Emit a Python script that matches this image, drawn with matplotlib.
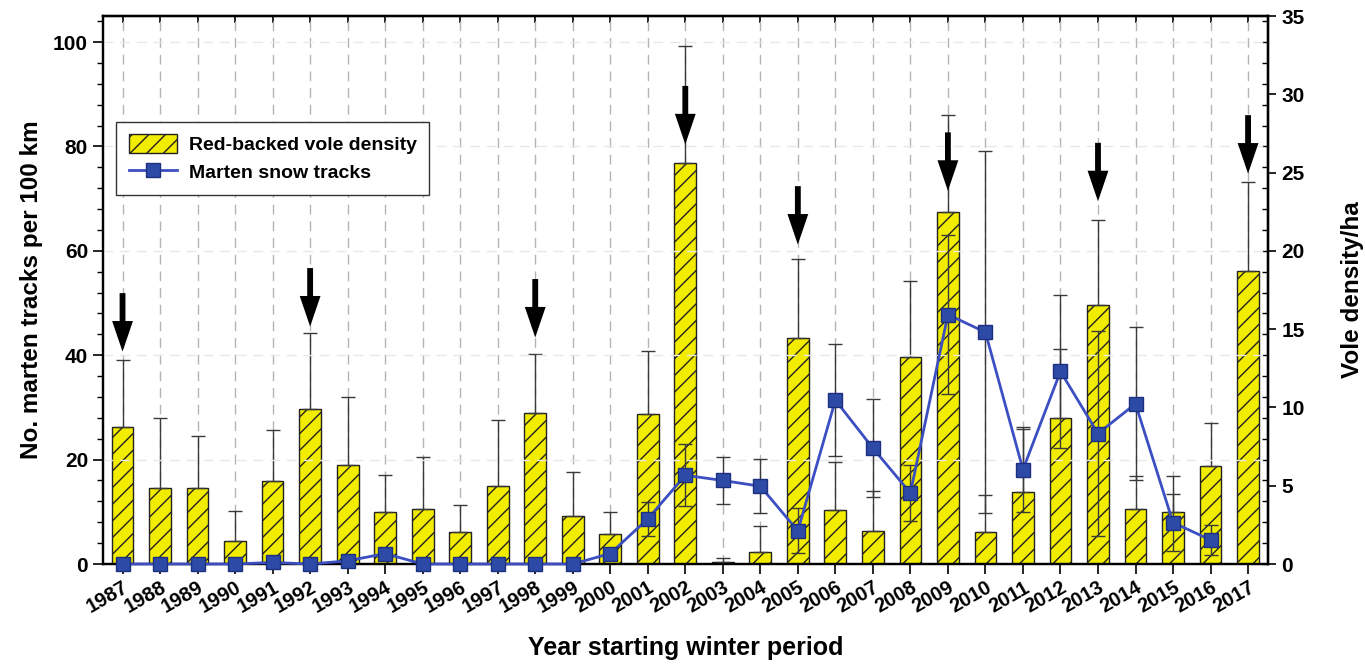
import numpy as np
import matplotlib
matplotlib.use('Agg')
import matplotlib.pyplot as plt
from matplotlib.ticker import MultipleLocator
from matplotlib.patches import Patch
from matplotlib.lines import Line2D

# values
years = np.arange(1987, 2018)

# red-backed vole density (voles/ha) and upper SE
vole = np.array([8.77, 4.87, 4.87, 1.5, 5.3, 9.92, 6.35, 3.35, 3.5, 2.05,
                 4.98, 9.66, 3.08, 1.92, 9.6, 25.64, 0.13, 0.75, 14.46, 3.46,
                 2.1, 13.25, 22.47, 2.03, 4.6, 9.35, 16.57, 3.52, 3.35, 6.28, 18.7])
vole_se = np.array([4.23, 4.47, 3.33, 1.88, 3.25, 4.82, 4.31, 2.31, 3.34, 1.75,
                    4.21, 3.74, 2.77, 1.39, 4.0, 7.42, 0.27, 1.68, 5.04, 3.04,
                    2.57, 4.82, 6.23, 2.39, 4.0, 4.35, 5.43, 2.08, 2.25, 2.72, 5.7])

# marten snow tracks per 100 km and SE (no survey in 2017)
tracks = np.array([0, 0, 0, 0, 0.3, 0, 0.6, 2.0, 0, 0,
                   0, 0, 0, 2.0, 8.65, 17.0, 16.0, 14.9, 6.35, 31.4,
                   22.2, 13.6, 47.8, 44.4, 18.1, 36.9, 25.0, 30.7, 7.95, 4.6, np.nan])
tracks_se = np.array([0, 0, 0, 0, 0, 0, 0, 0, 0, 0,
                      0, 0, 0, 0, 3.2, 5.9, 4.5, 5.2, 4.3, 10.7,
                      9.4, 5.4, 15.3, 34.7, 8.2, 14.7, 19.7, 14.7, 5.5, 2.9, np.nan])

# arrows marking vole peak years (tip height in tracks units)
arrow_years = [1987, 1992, 1998, 2002, 2005, 2009, 2013, 2017]
arrow_tips = [40.7, 45.5, 43.4, 80.4, 61.2, 71.5, 69.5, 74.8]
arrow_len = 11.2

yellow = '#f2ec00'
dark = '#222222'
blue_line = '#3c4fc2'
blue_face = '#2d4ba6'
blue_edge = '#1d3080'

plt.rcParams['font.family'] = ['Liberation Sans', 'DejaVu Sans']
plt.rcParams['font.weight'] = 'bold'
plt.rcParams['axes.labelweight'] = 'bold'
plt.rcParams['axes.linewidth'] = 1.6
plt.rcParams['hatch.linewidth'] = 1.0
plt.rcParams['hatch.color'] = dark

fig = plt.figure(figsize=(13.65, 6.64), dpi=100)
ax = fig.add_axes([0.0752, 0.1506, 0.8537, 0.8253])
ax_t = ax.twinx()
ax.set_zorder(1)
ax_t.set_zorder(2)
ax_t.patch.set_visible(False)

# bars on the vole axis (right)
ax.set_axisbelow(True)
ax.xaxis.grid(True, ls=(0, (7, 5)), color='#b4b4b4', lw=1)
ax.bar(years, vole, width=0.58, color=yellow, edgecolor=dark, lw=1.0,
       hatch='//', zorder=2)
ax.errorbar(years, vole, yerr=[np.zeros_like(vole), vole_se], fmt='none',
            ecolor='#3a3a3a', elinewidth=1, capsize=5, capthick=1, zorder=3)
ax.set_xlim(1986.47, 2017.53)
ax.set_ylim(0, 35)
ax.yaxis.tick_right()
ax.yaxis.set_label_position('right')
ax.yaxis.set_major_locator(MultipleLocator(5))
ax.tick_params(axis='y', direction='out', length=6, width=1.2, labelsize=15)
ax.set_ylabel('Vole density/ha', fontsize=17.5, labelpad=26)

ax.set_xticks(years)
ax.set_xticklabels([str(y) for y in years], rotation=30, ha='right',
                   rotation_mode='anchor', fontsize=14.5)
ax.tick_params(axis='x', direction='out', length=7, width=1.2, pad=3)
ax.set_xlabel('Year starting winter period', fontsize=18, labelpad=14)

secx = ax.secondary_xaxis('top')
secx.set_xticks(years)
secx.tick_params(direction='in', length=5, width=1.2, labeltop=False)

# marten tracks on the left axis
ax_t.set_axisbelow(True)
ax_t.yaxis.grid(True, ls=(0, (7, 5)), color='#e8e8e8', lw=1)
ax_t.errorbar(years, tracks, yerr=tracks_se, fmt='none', ecolor='#3a3a3a',
              elinewidth=1, capsize=5, capthick=1, zorder=3)
ax_t.plot(years, tracks, color=blue_line, lw=2, marker='s', ms=10.5,
          mfc=blue_face, mec=blue_edge, mew=1, zorder=4, clip_on=False)
ax_t.set_ylim(0, 105)
ax_t.yaxis.tick_left()
ax_t.yaxis.set_label_position('left')
ax_t.yaxis.set_major_locator(MultipleLocator(20))
ax_t.yaxis.set_minor_locator(MultipleLocator(4))
ax_t.tick_params(axis='y', which='major', direction='out', length=7, width=1.2, labelsize=15)
ax_t.tick_params(axis='y', which='minor', direction='out', length=4, width=1.0)
ax_t.set_ylabel('No. marten tracks per 100 km', fontsize=17.5, labelpad=7)

secy = ax_t.secondary_yaxis('right')
secy.yaxis.set_major_locator(MultipleLocator(20))
secy.yaxis.set_minor_locator(MultipleLocator(4))
secy.tick_params(which='both', direction='in', length=4, width=1.0, labelright=False)

for yr, tip in zip(arrow_years, arrow_tips):
    ax_t.annotate('', xy=(yr, tip), xytext=(yr, tip + arrow_len),
                  arrowprops=dict(arrowstyle='simple,head_length=1.1,head_width=0.75,tail_width=0.21',
                                  fc='black', ec='none', lw=0, shrinkA=0, shrinkB=0,
                                  mutation_scale=20), zorder=6)

handles = [Patch(facecolor=yellow, edgecolor=dark, hatch='//', lw=1.0,
                 label='Red-backed vole density'),
           Line2D([], [], color=blue_line, lw=2, marker='s', ms=10, mfc=blue_face,
                  mec=blue_edge, label='Marten snow tracks')]
leg = ax_t.legend(handles=handles, loc='upper left', bbox_to_anchor=(0.0114, 0.807),
                  borderaxespad=0, fancybox=False, edgecolor='#333333', framealpha=1,
                  fontsize=14, handlelength=2.5, handleheight=1.1,
                  labelspacing=0.4, borderpad=0.65, handletextpad=0.6)
leg.get_frame().set_linewidth(1.0)
leg.set_zorder(7)

fig.savefig('out.png', dpi=100)
